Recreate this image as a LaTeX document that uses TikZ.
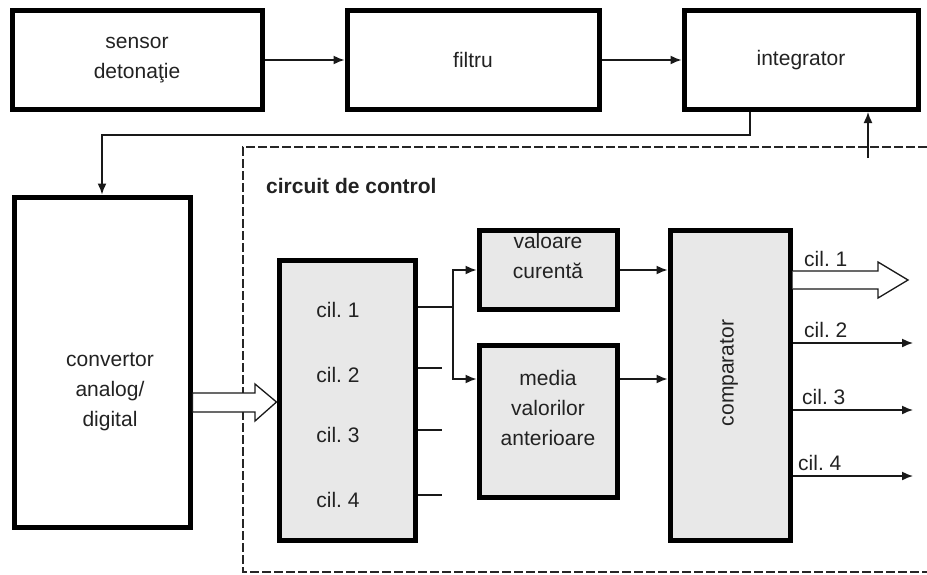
\documentclass[tikz,border=0pt]{standalone}
\usepackage{fontspec}
\setmainfont{Liberation Sans}
\usetikzlibrary{arrows.meta, positioning, calc}
\definecolor{boxgray}{HTML}{E8E8E8}
\definecolor{inkgray}{HTML}{222222}
\tikzstyle{block} = [rectangle, draw=black, line width=5pt, fill=white, text=inkgray, align=center, font=\fontsize{21}{30}\selectfont, inner sep=0pt]
\tikzstyle{graybox} = [block, fill=boxgray]
\tikzstyle{arrow} = [-{Latex[length=11pt,width=9pt]}, line width=1.5pt, color=black!90]
\frenchspacing

\begin{document}
\begin{tikzpicture}[x=1pt, y=-1pt,
    txt/.style={text=inkgray, align=center, font=\fontsize{21}{30}\selectfont, inner sep=0pt},
    head/.style={txt, font=\fontsize{21}{30}\selectfont\bfseries},
    line/.style={line width=1.5pt, color=black!90},
    fat/.style={line width=1.3pt, draw=black!90, fill=white, line join=miter},
    frame/.style={line width=1.2pt, dash pattern=on 9pt off 3pt, draw=black!85}
  ]
    \useasboundingbox (0,0) rectangle (927,574);

    % ── Signal chain (top row)
    \node[block, minimum width=250pt, minimum height=99pt] (sensor) at (137,60) {sensor\\detonaţie};
    \node[block, minimum width=252pt, minimum height=99pt] (filtru) at (473,60) {filtru};
    \node[block, minimum width=234pt, minimum height=99pt] (integ) at (801,60) {integrator};

    % ── A/D converter
    \node[block, minimum width=176pt, minimum height=330pt] (adc) at (102,362) {};
    \node[txt] (adctxt) at (110,392) {convertor\\analog/\\digital};

    % ── Control circuit frame
    \draw[frame] (927,147) -- (243,147) -- (243,572) -- (927,572);
    \node[head, anchor=west] (ctrl) at (266,186) {circuit de control};

    % ── Cylinder selector
    \node[graybox, minimum width=136pt, minimum height=280pt] (cil) at (347,400) {};
    \node[txt] (c1) at (338,310) {cil. 1};
    \node[txt] (c2) at (338,375) {cil. 2};
    \node[txt] (c3) at (338,435) {cil. 3};
    \node[txt] (c4) at (338,500) {cil. 4};

    % ── Current value / mean of previous values
    \node[graybox, minimum width=138pt, minimum height=79pt] (val) at (548,270) {};
    \node[txt] (valtxt) at (548,256) {valoare\\curentă};
    \node[graybox, minimum width=138pt, minimum height=152pt] (media) at (548,421) {};
    \node[txt] (mediatxt) at (548,408) {media\\valorilor\\anterioare};

    % ── Comparator
    \node[graybox, minimum width=120pt, minimum height=310pt] (comp) at (730,385) {};
    \node[txt, rotate=90] (comptxt) at (729,373) {comparator};

    % ── Arrows (top row and feedback)
    \draw[arrow] (sensor) -- (filtru);
    \draw[arrow] (filtru) -- (integ);
    \draw[arrow] ([xshift=-51pt]integ.south) -- ++(0,23) -| (adc.north);
    \coordinate (fbin) at (868,158);
    \draw[arrow] (fbin) -- (fbin |- integ.south);

    % ── Fat arrow A/D -> cylinders
    \draw[fat] (adc.east |- 0,393) -- (255,393) -- (255,384) -- (cil.west |- 0,402)
      -- (255,421) -- (255,412) -- (adc.east |- 0,412) -- cycle;

    % ── Cylinder outputs
    \coordinate (br) at (453,307);
    \draw[line] (cil.east |- br) -- (br);
    \draw[line] (cil.east |- 0,368) -- (442,368);
    \draw[line] (cil.east |- 0,430) -- (442,430);
    \draw[line] (cil.east |- 0,495) -- (442,495);
    \draw[arrow] (br) |- (val.west);
    \draw[arrow] (br) |- (media.west |- 0,379);
    \draw[arrow] (val.east) -- (val.east -| comp.west);
    \draw[arrow] (media.east |- 0,379) -- (comp.west |- 0,379);

    % ── Comparator outputs
    \draw[fat] (comp.east |- 0,271) -- (878,271) -- (878,262) -- (908,280)
      -- (878,298) -- (878,289) -- (comp.east |- 0,289);
    \coordinate (o2) at (913,343);
    \coordinate (o3) at (913,410);
    \coordinate (o4) at (913,476);
    \draw[arrow] (comp.east |- o2) -- (o2);
    \draw[arrow] (comp.east |- o3) -- (o3);
    \draw[arrow] (comp.east |- o4) -- (o4);
    \node[txt, anchor=south west] (l1) at (804,267) {cil. 1};
    \node[txt, anchor=south west] (l2) at (804,338) {cil. 2};
    \node[txt, anchor=south west] (l3) at (802,405) {cil. 3};
    \node[txt, anchor=south west] (l4) at (798,471) {cil. 4};
  \end{tikzpicture}
\end{document}
